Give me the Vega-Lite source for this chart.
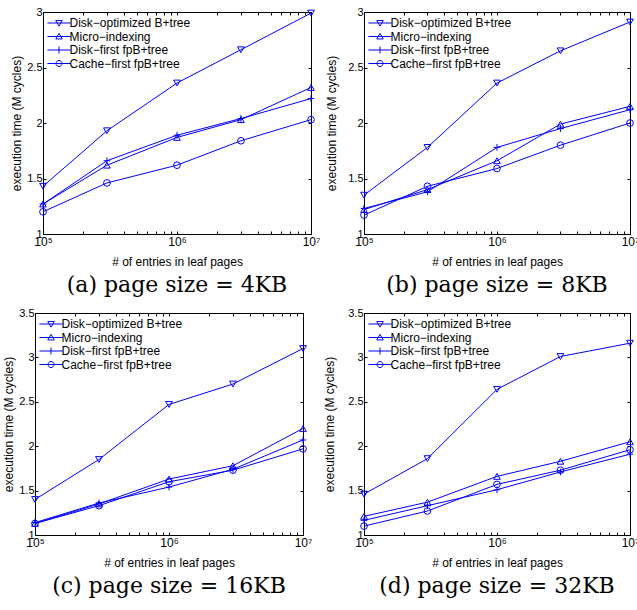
{
  "$schema": "https://vega.github.io/schema/vega-lite/v6.json",
  "background": "white",
  "padding": {"left": 0, "top": 5, "right": 0, "bottom": 0},
  "spacing": 9,
  "datasets": {
    "d": [
      {"p": "a", "s": "Disk−optimized B+tree", "n": 100000, "t": 1.43},
      {"p": "a", "s": "Disk−optimized B+tree", "n": 300000, "t": 1.93},
      {"p": "a", "s": "Disk−optimized B+tree", "n": 1000000, "t": 2.36},
      {"p": "a", "s": "Disk−optimized B+tree", "n": 3000000, "t": 2.66},
      {"p": "a", "s": "Disk−optimized B+tree", "n": 10000000, "t": 2.99},
      {"p": "a", "s": "Micro−indexing", "n": 100000, "t": 1.27},
      {"p": "a", "s": "Micro−indexing", "n": 300000, "t": 1.62},
      {"p": "a", "s": "Micro−indexing", "n": 1000000, "t": 1.87},
      {"p": "a", "s": "Micro−indexing", "n": 3000000, "t": 2.03},
      {"p": "a", "s": "Micro−indexing", "n": 10000000, "t": 2.32},
      {"p": "a", "s": "Disk−first fpB+tree", "n": 100000, "t": 1.27},
      {"p": "a", "s": "Disk−first fpB+tree", "n": 300000, "t": 1.66},
      {"p": "a", "s": "Disk−first fpB+tree", "n": 1000000, "t": 1.89},
      {"p": "a", "s": "Disk−first fpB+tree", "n": 3000000, "t": 2.04},
      {"p": "a", "s": "Disk−first fpB+tree", "n": 10000000, "t": 2.22},
      {"p": "a", "s": "Cache−first fpB+tree", "n": 100000, "t": 1.2},
      {"p": "a", "s": "Cache−first fpB+tree", "n": 300000, "t": 1.46},
      {"p": "a", "s": "Cache−first fpB+tree", "n": 1000000, "t": 1.62},
      {"p": "a", "s": "Cache−first fpB+tree", "n": 3000000, "t": 1.84},
      {"p": "a", "s": "Cache−first fpB+tree", "n": 10000000, "t": 2.03},
      {"p": "b", "s": "Disk−optimized B+tree", "n": 100000, "t": 1.35},
      {"p": "b", "s": "Disk−optimized B+tree", "n": 300000, "t": 1.78},
      {"p": "b", "s": "Disk−optimized B+tree", "n": 1000000, "t": 2.36},
      {"p": "b", "s": "Disk−optimized B+tree", "n": 3000000, "t": 2.65},
      {"p": "b", "s": "Disk−optimized B+tree", "n": 10000000, "t": 2.91},
      {"p": "b", "s": "Micro−indexing", "n": 100000, "t": 1.22},
      {"p": "b", "s": "Micro−indexing", "n": 300000, "t": 1.4},
      {"p": "b", "s": "Micro−indexing", "n": 1000000, "t": 1.66},
      {"p": "b", "s": "Micro−indexing", "n": 3000000, "t": 1.99},
      {"p": "b", "s": "Micro−indexing", "n": 10000000, "t": 2.15},
      {"p": "b", "s": "Disk−first fpB+tree", "n": 100000, "t": 1.23},
      {"p": "b", "s": "Disk−first fpB+tree", "n": 300000, "t": 1.38},
      {"p": "b", "s": "Disk−first fpB+tree", "n": 1000000, "t": 1.78},
      {"p": "b", "s": "Disk−first fpB+tree", "n": 3000000, "t": 1.95},
      {"p": "b", "s": "Disk−first fpB+tree", "n": 10000000, "t": 2.12},
      {"p": "b", "s": "Cache−first fpB+tree", "n": 100000, "t": 1.17},
      {"p": "b", "s": "Cache−first fpB+tree", "n": 300000, "t": 1.43},
      {"p": "b", "s": "Cache−first fpB+tree", "n": 1000000, "t": 1.59},
      {"p": "b", "s": "Cache−first fpB+tree", "n": 3000000, "t": 1.8},
      {"p": "b", "s": "Cache−first fpB+tree", "n": 10000000, "t": 2.0},
      {"p": "c", "s": "Disk−optimized B+tree", "n": 100000, "t": 1.4},
      {"p": "c", "s": "Disk−optimized B+tree", "n": 300000, "t": 1.85},
      {"p": "c", "s": "Disk−optimized B+tree", "n": 1000000, "t": 2.47},
      {"p": "c", "s": "Disk−optimized B+tree", "n": 3000000, "t": 2.7},
      {"p": "c", "s": "Disk−optimized B+tree", "n": 10000000, "t": 3.1},
      {"p": "c", "s": "Micro−indexing", "n": 100000, "t": 1.13},
      {"p": "c", "s": "Micro−indexing", "n": 300000, "t": 1.35},
      {"p": "c", "s": "Micro−indexing", "n": 1000000, "t": 1.63},
      {"p": "c", "s": "Micro−indexing", "n": 3000000, "t": 1.78},
      {"p": "c", "s": "Micro−indexing", "n": 10000000, "t": 2.2},
      {"p": "c", "s": "Disk−first fpB+tree", "n": 100000, "t": 1.14},
      {"p": "c", "s": "Disk−first fpB+tree", "n": 300000, "t": 1.36},
      {"p": "c", "s": "Disk−first fpB+tree", "n": 1000000, "t": 1.54},
      {"p": "c", "s": "Disk−first fpB+tree", "n": 3000000, "t": 1.74},
      {"p": "c", "s": "Disk−first fpB+tree", "n": 10000000, "t": 2.07},
      {"p": "c", "s": "Cache−first fpB+tree", "n": 100000, "t": 1.13},
      {"p": "c", "s": "Cache−first fpB+tree", "n": 300000, "t": 1.33},
      {"p": "c", "s": "Cache−first fpB+tree", "n": 1000000, "t": 1.6},
      {"p": "c", "s": "Cache−first fpB+tree", "n": 3000000, "t": 1.73},
      {"p": "c", "s": "Cache−first fpB+tree", "n": 10000000, "t": 1.97},
      {"p": "d", "s": "Disk−optimized B+tree", "n": 100000, "t": 1.46},
      {"p": "d", "s": "Disk−optimized B+tree", "n": 300000, "t": 1.86},
      {"p": "d", "s": "Disk−optimized B+tree", "n": 1000000, "t": 2.64},
      {"p": "d", "s": "Disk−optimized B+tree", "n": 3000000, "t": 3.01},
      {"p": "d", "s": "Disk−optimized B+tree", "n": 10000000, "t": 3.16},
      {"p": "d", "s": "Micro−indexing", "n": 100000, "t": 1.21},
      {"p": "d", "s": "Micro−indexing", "n": 300000, "t": 1.37},
      {"p": "d", "s": "Micro−indexing", "n": 1000000, "t": 1.66},
      {"p": "d", "s": "Micro−indexing", "n": 3000000, "t": 1.83},
      {"p": "d", "s": "Micro−indexing", "n": 10000000, "t": 2.05},
      {"p": "d", "s": "Disk−first fpB+tree", "n": 100000, "t": 1.165},
      {"p": "d", "s": "Disk−first fpB+tree", "n": 300000, "t": 1.33},
      {"p": "d", "s": "Disk−first fpB+tree", "n": 1000000, "t": 1.51},
      {"p": "d", "s": "Disk−first fpB+tree", "n": 3000000, "t": 1.71},
      {"p": "d", "s": "Disk−first fpB+tree", "n": 10000000, "t": 1.91},
      {"p": "d", "s": "Cache−first fpB+tree", "n": 100000, "t": 1.1},
      {"p": "d", "s": "Cache−first fpB+tree", "n": 300000, "t": 1.27},
      {"p": "d", "s": "Cache−first fpB+tree", "n": 1000000, "t": 1.57},
      {"p": "d", "s": "Cache−first fpB+tree", "n": 3000000, "t": 1.73},
      {"p": "d", "s": "Cache−first fpB+tree", "n": 10000000, "t": 1.96}
    ]
  },
  "vconcat": [
    {
      "spacing": 1,
      "resolve": {"scale": {"shape": "independent"}, "legend": {"shape": "independent"}},
      "hconcat": [
        {"width": 1, "height": 1, "view": {"stroke": null}, "data": {"values": []}, "mark": {"type": "point", "opacity": 0}, "encoding": {}},
        {
          "width": 268, "height": 222,
          "data": {"name": "d"},
          "transform": [{"filter": "datum.p === 'a'"}],
          "title": {"text": "(a) page size = 4KB"},
          "resolve": {"scale": {"shape": "independent"}},
          "layer": [
            {
              "mark": {"type": "line", "color": "#0000ff", "strokeWidth": 1},
              "encoding": {
                "x": {"field": "n", "type": "quantitative", "scale": {"type": "log", "domain": [100000, 10000000], "nice": false},
                  "axis": {"orient": "bottom", "title": "# of entries in leaf pages", "values": [100000,200000,300000,400000,500000,600000,700000,800000,900000,1000000,2000000,3000000,4000000,5000000,6000000,7000000,8000000,9000000,10000000], "labelExpr": "datum.value == 100000 ? '10⁵' : datum.value == 1000000 ? '10⁶' : datum.value == 10000000 ? '10⁷' : ''"}},
                "y": {"field": "t", "type": "quantitative", "scale": {"domain": [1, 3], "nice": false, "zero": false},
                  "axis": {"orient": "left", "title": "execution time (M cycles)", "titlePadding": 3, "values": [1, 1.5, 2, 2.5, 3], "labelExpr": "'' + datum.value"}},
                "detail": {"field": "s"}
              }
            },
            {
              "mark": {"type": "point", "color": "#0000ff", "filled": false, "size": 45, "strokeWidth": 1, "opacity": 1},
              "encoding": {
                "x": {"field": "n", "type": "quantitative", "axis": {"orient": "top", "title": null, "values": [100000,200000,300000,400000,500000,600000,700000,800000,900000,1000000,2000000,3000000,4000000,5000000,6000000,7000000,8000000,9000000,10000000]}},
                "y": {"field": "t", "type": "quantitative", "axis": {"orient": "right", "title": null, "values": [1, 1.5, 2, 2.5, 3]}},
                "shape": {"field": "s", "type": "nominal", "legend": null,
                  "scale": {"domain": ["Disk−optimized B+tree", "Micro−indexing", "Disk−first fpB+tree", "Cache−first fpB+tree"], "range": ["triangle-down", "triangle-up", "M-1,0H1M0,-1V1", "circle"]}}
              }
            },
            {
              "transform": [{"filter": "false"}],
              "mark": {"type": "point", "color": "#0000ff", "filled": false, "size": 49, "strokeWidth": 1, "opacity": 1},
              "encoding": {
                "x": {"field": "n", "type": "quantitative", "axis": null},
                "y": {"field": "t", "type": "quantitative", "axis": {"orient": "left", "title": " ", "titleX": -40.5, "titleY": 0, "titleAngle": 0, "titleAlign": "left", "titleBaseline": "top", "titleFontSize": 2, "labels": false, "ticks": false, "domain": false, "values": [1]}},
                "shape": {"field": "s", "type": "nominal",
                  "scale": {"domain": ["Disk−optimized B+tree", "Micro−indexing", "Disk−first fpB+tree", "Cache−first fpB+tree"], "range": ["M-3.3,0H3.3M-0.93,-0.7H0.93L0,0.9Z", "M-3.3,0H3.3M-0.93,0.7H0.93L0,-0.9Z", "M-3.3,0H3.3M0,-1V1", "M-3.3,0H3.3M-0.86,0A0.86,0.86,0,1,0,0.86,0A0.86,0.86,0,1,0,-0.86,0"]},
                  "legend": {"orient": "none", "legendX": 10, "legendY": 5}}
              }
            }
          ]
        },
        {
          "width": 266, "height": 222,
          "data": {"name": "d"},
          "transform": [{"filter": "datum.p === 'b'"}],
          "title": {"text": "(b) page size = 8KB", "frame": "group"},
          "resolve": {"scale": {"shape": "independent"}},
          "layer": [
            {
              "mark": {"type": "line", "color": "#0000ff", "strokeWidth": 1},
              "encoding": {
                "x": {"field": "n", "type": "quantitative", "scale": {"type": "log", "domain": [100000, 10000000], "nice": false},
                  "axis": {"orient": "bottom", "title": "# of entries in leaf pages", "values": [100000,200000,300000,400000,500000,600000,700000,800000,900000,1000000,2000000,3000000,4000000,5000000,6000000,7000000,8000000,9000000,10000000], "labelExpr": "datum.value == 100000 ? '10⁵' : datum.value == 1000000 ? '10⁶' : datum.value == 10000000 ? '10⁷' : ''"}},
                "y": {"field": "t", "type": "quantitative", "scale": {"domain": [1, 3], "nice": false, "zero": false},
                  "axis": {"orient": "left", "title": "execution time (M cycles)", "titlePadding": 9, "values": [1, 1.5, 2, 2.5, 3], "labelExpr": "'' + datum.value"}},
                "detail": {"field": "s"}
              }
            },
            {
              "mark": {"type": "point", "color": "#0000ff", "filled": false, "size": 45, "strokeWidth": 1, "opacity": 1},
              "encoding": {
                "x": {"field": "n", "type": "quantitative", "axis": {"orient": "top", "title": null, "values": [100000,200000,300000,400000,500000,600000,700000,800000,900000,1000000,2000000,3000000,4000000,5000000,6000000,7000000,8000000,9000000,10000000]}},
                "y": {"field": "t", "type": "quantitative", "axis": {"orient": "right", "title": null, "values": [1, 1.5, 2, 2.5, 3]}},
                "shape": {"field": "s", "type": "nominal", "legend": null,
                  "scale": {"domain": ["Disk−optimized B+tree", "Micro−indexing", "Disk−first fpB+tree", "Cache−first fpB+tree"], "range": ["triangle-down", "triangle-up", "M-1,0H1M0,-1V1", "circle"]}}
              }
            },
            {
              "transform": [{"filter": "false"}],
              "mark": {"type": "point", "color": "#0000ff", "filled": false, "size": 49, "strokeWidth": 1, "opacity": 1},
              "encoding": {
                "x": {"field": "n", "type": "quantitative", "axis": null},
                "y": {"field": "t", "type": "quantitative", "axis": {"orient": "left", "title": " ", "titleX": -41, "titleY": 0, "titleAngle": 0, "titleAlign": "left", "titleBaseline": "top", "titleFontSize": 2, "labels": false, "ticks": false, "domain": false, "values": [1]}},
                "shape": {"field": "s", "type": "nominal",
                  "scale": {"domain": ["Disk−optimized B+tree", "Micro−indexing", "Disk−first fpB+tree", "Cache−first fpB+tree"], "range": ["M-3.3,0H3.3M-0.93,-0.7H0.93L0,0.9Z", "M-3.3,0H3.3M-0.93,0.7H0.93L0,-0.9Z", "M-3.3,0H3.3M0,-1V1", "M-3.3,0H3.3M-0.86,0A0.86,0.86,0,1,0,0.86,0A0.86,0.86,0,1,0,-0.86,0"]},
                  "legend": {"orient": "none", "legendX": 10, "legendY": 5}}
              }
            }
          ]
        }
      ]
    },
    {
      "spacing": 1,
      "resolve": {"scale": {"shape": "independent"}, "legend": {"shape": "independent"}},
      "hconcat": [
        {"width": 1, "height": 1, "view": {"stroke": null}, "data": {"values": []}, "mark": {"type": "point", "opacity": 0}, "encoding": {}},
        {
          "width": 268, "height": 222,
          "data": {"name": "d"},
          "transform": [{"filter": "datum.p === 'c'"}],
          "title": {"text": "(c) page size = 16KB", "frame": "group"},
          "resolve": {"scale": {"shape": "independent"}},
          "layer": [
            {
              "mark": {"type": "line", "color": "#0000ff", "strokeWidth": 1},
              "encoding": {
                "x": {"field": "n", "type": "quantitative", "scale": {"type": "log", "domain": [100000, 10000000], "nice": false},
                  "axis": {"orient": "bottom", "title": "# of entries in leaf pages", "values": [100000,200000,300000,400000,500000,600000,700000,800000,900000,1000000,2000000,3000000,4000000,5000000,6000000,7000000,8000000,9000000,10000000], "labelExpr": "datum.value == 100000 ? '10⁵' : datum.value == 1000000 ? '10⁶' : datum.value == 10000000 ? '10⁷' : ''"}},
                "y": {"field": "t", "type": "quantitative", "scale": {"domain": [1, 3.5], "nice": false, "zero": false},
                  "axis": {"orient": "left", "title": "execution time (M cycles)", "titlePadding": 3, "values": [1, 1.5, 2, 2.5, 3, 3.5], "labelExpr": "'' + datum.value"}},
                "detail": {"field": "s"}
              }
            },
            {
              "mark": {"type": "point", "color": "#0000ff", "filled": false, "size": 45, "strokeWidth": 1, "opacity": 1},
              "encoding": {
                "x": {"field": "n", "type": "quantitative", "axis": {"orient": "top", "title": null, "values": [100000,200000,300000,400000,500000,600000,700000,800000,900000,1000000,2000000,3000000,4000000,5000000,6000000,7000000,8000000,9000000,10000000]}},
                "y": {"field": "t", "type": "quantitative", "axis": {"orient": "right", "title": null, "values": [1, 1.5, 2, 2.5, 3, 3.5]}},
                "shape": {"field": "s", "type": "nominal", "legend": null,
                  "scale": {"domain": ["Disk−optimized B+tree", "Micro−indexing", "Disk−first fpB+tree", "Cache−first fpB+tree"], "range": ["triangle-down", "triangle-up", "M-1,0H1M0,-1V1", "circle"]}}
              }
            },
            {
              "transform": [{"filter": "false"}],
              "mark": {"type": "point", "color": "#0000ff", "filled": false, "size": 49, "strokeWidth": 1, "opacity": 1},
              "encoding": {
                "x": {"field": "n", "type": "quantitative", "axis": null},
                "y": {"field": "t", "type": "quantitative", "axis": null},
                "shape": {"field": "s", "type": "nominal",
                  "scale": {"domain": ["Disk−optimized B+tree", "Micro−indexing", "Disk−first fpB+tree", "Cache−first fpB+tree"], "range": ["M-3.3,0H3.3M-0.93,-0.7H0.93L0,0.9Z", "M-3.3,0H3.3M-0.93,0.7H0.93L0,-0.9Z", "M-3.3,0H3.3M0,-1V1", "M-3.3,0H3.3M-0.86,0A0.86,0.86,0,1,0,0.86,0A0.86,0.86,0,1,0,-0.86,0"]},
                  "legend": {"orient": "none", "legendX": 10, "legendY": 5}}
              }
            }
          ]
        },
        {
          "width": 266, "height": 222,
          "data": {"name": "d"},
          "transform": [{"filter": "datum.p === 'd'"}],
          "title": {"text": "(d) page size = 32KB", "frame": "group"},
          "resolve": {"scale": {"shape": "independent"}},
          "layer": [
            {
              "mark": {"type": "line", "color": "#0000ff", "strokeWidth": 1},
              "encoding": {
                "x": {"field": "n", "type": "quantitative", "scale": {"type": "log", "domain": [100000, 10000000], "nice": false},
                  "axis": {"orient": "bottom", "title": "# of entries in leaf pages", "values": [100000,200000,300000,400000,500000,600000,700000,800000,900000,1000000,2000000,3000000,4000000,5000000,6000000,7000000,8000000,9000000,10000000], "labelExpr": "datum.value == 100000 ? '10⁵' : datum.value == 1000000 ? '10⁶' : datum.value == 10000000 ? '10⁷' : ''"}},
                "y": {"field": "t", "type": "quantitative", "scale": {"domain": [1, 3.5], "nice": false, "zero": false},
                  "axis": {"orient": "left", "title": "execution time (M cycles)", "titlePadding": 11, "values": [1, 1.5, 2, 2.5, 3, 3.5], "labelExpr": "'' + datum.value"}},
                "detail": {"field": "s"}
              }
            },
            {
              "mark": {"type": "point", "color": "#0000ff", "filled": false, "size": 45, "strokeWidth": 1, "opacity": 1},
              "encoding": {
                "x": {"field": "n", "type": "quantitative", "axis": {"orient": "top", "title": null, "values": [100000,200000,300000,400000,500000,600000,700000,800000,900000,1000000,2000000,3000000,4000000,5000000,6000000,7000000,8000000,9000000,10000000]}},
                "y": {"field": "t", "type": "quantitative", "axis": {"orient": "right", "title": null, "values": [1, 1.5, 2, 2.5, 3, 3.5]}},
                "shape": {"field": "s", "type": "nominal", "legend": null,
                  "scale": {"domain": ["Disk−optimized B+tree", "Micro−indexing", "Disk−first fpB+tree", "Cache−first fpB+tree"], "range": ["triangle-down", "triangle-up", "M-1,0H1M0,-1V1", "circle"]}}
              }
            },
            {
              "transform": [{"filter": "false"}],
              "mark": {"type": "point", "color": "#0000ff", "filled": false, "size": 49, "strokeWidth": 1, "opacity": 1},
              "encoding": {
                "x": {"field": "n", "type": "quantitative", "axis": null},
                "y": {"field": "t", "type": "quantitative", "axis": {"orient": "left", "title": " ", "titleX": -49.5, "titleY": 0, "titleAngle": 0, "titleAlign": "left", "titleBaseline": "top", "titleFontSize": 2, "labels": false, "ticks": false, "domain": false, "values": [1]}},
                "shape": {"field": "s", "type": "nominal",
                  "scale": {"domain": ["Disk−optimized B+tree", "Micro−indexing", "Disk−first fpB+tree", "Cache−first fpB+tree"], "range": ["M-3.3,0H3.3M-0.93,-0.7H0.93L0,0.9Z", "M-3.3,0H3.3M-0.93,0.7H0.93L0,-0.9Z", "M-3.3,0H3.3M0,-1V1", "M-3.3,0H3.3M-0.86,0A0.86,0.86,0,1,0,0.86,0A0.86,0.86,0,1,0,-0.86,0"]},
                  "legend": {"orient": "none", "legendX": 10, "legendY": 5}}
              }
            }
          ]
        }
      ]
    }
  ],
  "config": {
    "view": {"stroke": "black", "strokeWidth": 1},
    "font": "Liberation Sans",
    "axis": {"domainColor": "black", "domainWidth": 1, "tickColor": "black", "tickSize": -3, "tickWidth": 1, "grid": false, "labelColor": "black", "labelFont": "Liberation Sans", "labelFontSize": 12, "labelPadding": 4, "labelOverlap": false, "labelFlush": false, "titleFont": "Liberation Sans", "titleFontSize": 12, "titleFontWeight": "normal", "titleColor": "black"},
    "axisLeft": {"labelFontSize": 11},
    "axisBottom": {"labelPadding": 5, "titlePadding": 9},
    "axisTop": {"labels": false},
    "axisRight": {"labels": false},
    "title": {"orient": "bottom", "font": "DejaVu Serif", "fontSize": 22, "fontWeight": "normal", "color": "black", "offset": 8},
    "legend": {
      "title": null, "padding": 0, "symbolSize": 49, "rowPadding": 1.5, "labelOffset": 4.5,
      "labelFont": "Liberation Sans", "labelFontSize": 12, "labelColor": "black",
      "symbolStrokeWidth": 1, "symbolStrokeColor": "#0000ff", "symbolFillColor": "transparent"
    }
  }
}
